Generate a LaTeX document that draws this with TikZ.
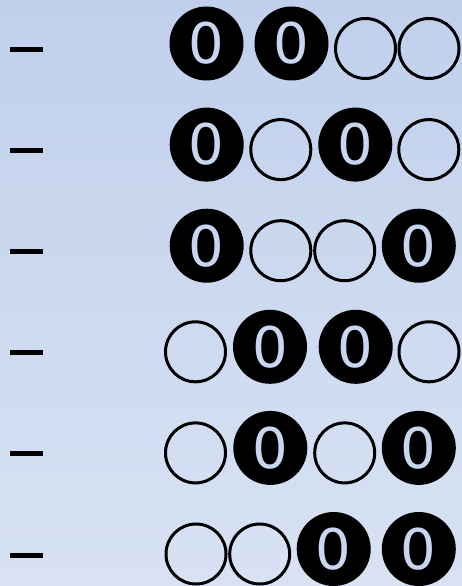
\documentclass[tikz,border=0pt]{standalone}
\usepackage{fontspec}
\setmainfont{DejaVu Sans}
\definecolor{bgtop}{HTML}{C0D0EC}
\definecolor{bgbot}{HTML}{D8E2F3}
\definecolor{digit}{HTML}{C8D6F0}
\begin{document}
\begin{tikzpicture}[x=1pt,y=-1pt,
  full/.style={circle,fill=black,minimum size=74pt,inner sep=0pt,text=digit,font=\fontsize{56}{56}\selectfont},
  hollow/.style={circle,draw=black,line width=3pt,minimum size=60pt,inner sep=0pt},
  dashmark/.style={line width=5pt}]
\shade[top color=bgtop,bottom color=bgbot] (0,0) rectangle (462,586);
\useasboundingbox (0,0) rectangle (462,586);
% row 1
\draw[dashmark] (10,49.5) -- (43,49.5);
\node[full]   (r1a) at (206.5,43.5) {0};
\node[full]   (r1b) at (291.5,43.5) {0};
\node[hollow] (r1c) at (365.5,48.5) {};
\node[hollow] (r1d) at (429,48.5) {};
% row 2
\draw[dashmark] (10,150.6) -- (43,150.6);
\node[full]   (r2a) at (206.7,144.6) {0};
\node[hollow] (r2b) at (280.8,149.6) {};
\node[full]   (r2c) at (355.3,144.6) {0};
\node[hollow] (r2d) at (428.8,149.6) {};
% row 3
\draw[dashmark] (10,251.7) -- (43,251.7);
\node[full]   (r3a) at (206.7,245.7) {0};
\node[hollow] (r3b) at (280.8,250.7) {};
\node[hollow] (r3c) at (344.7,250.7) {};
\node[full]   (r3d) at (418.8,245.7) {0};
% row 4
\draw[dashmark] (10,352.8) -- (43,352.8);
\node[hollow] (r4a) at (195.5,351.8) {};
\node[full]   (r4b) at (270,346.8) {0};
\node[full]   (r4c) at (355.7,346.8) {0};
\node[hollow] (r4d) at (429,351.8) {};
% row 5
\draw[dashmark] (10,453.9) -- (43,453.9);
\node[hollow] (r5a) at (195.5,452.9) {};
\node[full]   (r5b) at (270.3,447.9) {0};
\node[hollow] (r5c) at (344.7,452.9) {};
\node[full]   (r5d) at (418.8,447.9) {0};
% row 6
\draw[dashmark] (10,555) -- (43,555);
\node[hollow] (r6a) at (196,554) {};
\node[hollow] (r6b) at (259.7,554) {};
\node[full]   (r6c) at (333.7,549) {0};
\node[full]   (r6d) at (418.8,549) {0};
\end{tikzpicture}
\end{document}
